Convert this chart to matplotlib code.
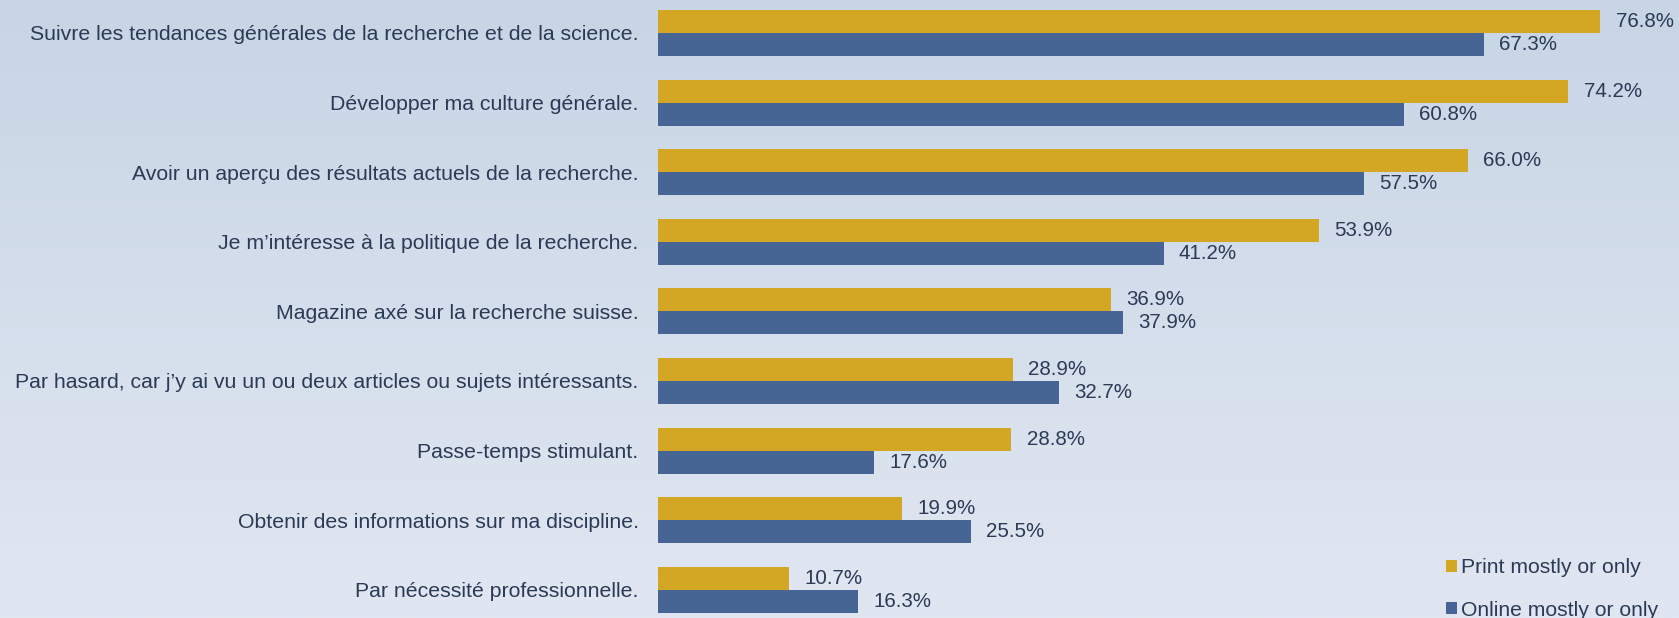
import numpy as np
import matplotlib
matplotlib.use('Agg')
from matplotlib import pyplot as plt

plt.rcParams['font.family'] = ['Liberation Sans', 'DejaVu Sans']

categories = ['Suivre les tendances générales de la recherche et de la science.',
              'Développer ma culture générale.',
              'Avoir un aperçu des résultats actuels de la recherche.',
              'Je m’intéresse à la politique de la recherche.',
              'Magazine axé sur la recherche suisse.',
              'Par hasard, car j’y ai vu un ou deux articles ou sujets intéressants.',
              'Passe-temps stimulant.',
              'Obtenir des informations sur ma discipline.',
              'Par nécessité professionnelle.']
print_vals = [76.8, 74.2, 66.0, 53.9, 36.9, 28.9, 28.8, 19.9, 10.7]
online_vals = [67.3, 60.8, 57.5, 41.2, 37.9, 32.7, 17.6, 25.5, 16.3]
series_names = ['Print mostly or only', 'Online mostly or only']

c_print = '#D3A623'
c_online = '#466594'
c_text = '#2B3A55'

W, H = 1679, 618
fig = plt.figure(figsize=(W / 100, H / 100), dpi=100)

# background gradient
bg = fig.add_axes([0, 0, 1, 1], zorder=-10)
top = np.array([200, 213, 229]) / 255
bot = np.array([225, 231, 242]) / 255
t = np.linspace(0, 1, 256)[:, None]
grad = top[None, :] * (1 - t) + bot[None, :] * t
bg.imshow(grad[:, None, :], aspect='auto', extent=[0, 1, 0, 1])
bg.axis('off')

x0 = 658
x1 = x0 + 80 * 12.27
ax = fig.add_axes([x0 / W, 0, (x1 - x0) / W, 1])
ax.patch.set_alpha(0)

y = np.arange(len(categories))
h = 0.33
b1 = ax.barh(y - h / 2, print_vals, height=h, color=c_print, label=series_names[0])
b2 = ax.barh(y + h / 2, online_vals, height=h, color=c_online, label=series_names[1])

for bars, vals in ((b1, print_vals), (b2, online_vals)):
    for bar, v in zip(bars, vals):
        ax.annotate(f'{v:.1f}%', (bar.get_width(), bar.get_y() + bar.get_height() / 2),
                    xytext=(11, 0), textcoords='offset points',
                    ha='left', va='center', fontsize=14.8, color=c_text)

ax.set_xlim(0, 80)
ax.set_ylim((H - 33) / 69.6, -33 / 69.6)
ax.set_yticks(y)
ax.set_yticklabels(categories, fontsize=15.3, color=c_text)
ax.tick_params(axis='y', length=0, pad=14)
ax.set_xticks([])
for s in ax.spines.values():
    s.set_visible(False)

leg = fig.legend(loc='upper left', bbox_to_anchor=(1438 / W, 1 - 550 / H),
                 frameon=False, fontsize=15.2, labelcolor=c_text,
                 handlelength=0.5, handleheight=0.5, handletextpad=0.2,
                 labelspacing=1.1, borderaxespad=0)

fig.savefig('out.png', dpi=100)
